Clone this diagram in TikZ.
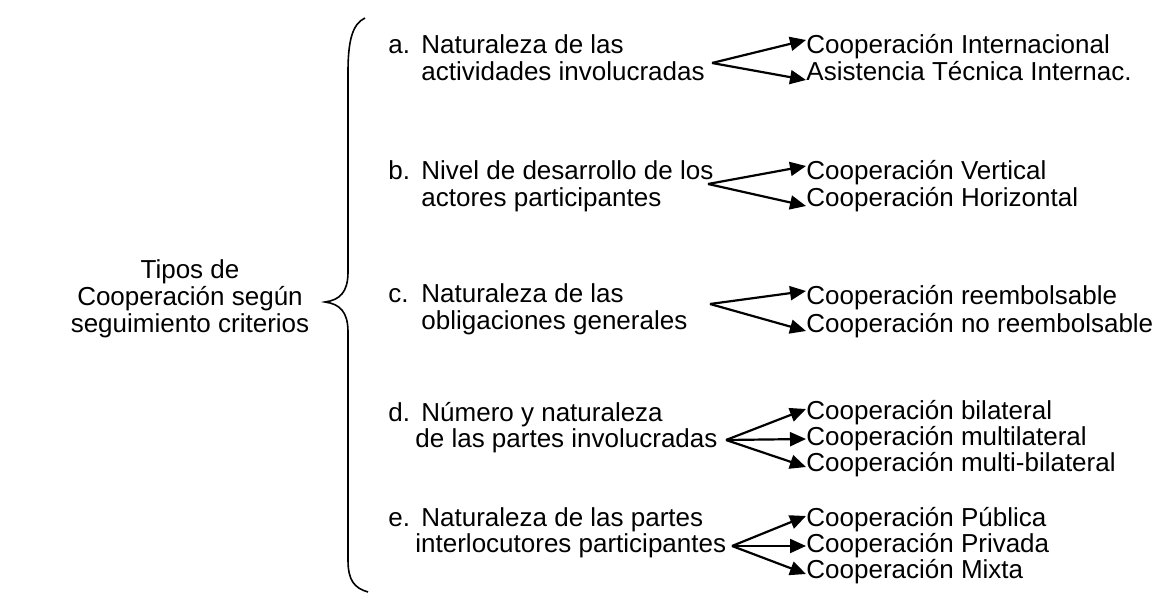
\documentclass[tikz,border=0pt]{standalone}
\usepackage{fontspec}
\setmainfont{Liberation Sans}
\usetikzlibrary{arrows.meta}

\tikzset{
	txt/.style={anchor=base west,inner sep=0pt,text height=9pt,text depth=3pt,
		font=\fontsize{13}{13.5}\selectfont},
	arr/.style={-{Triangle[length=8pt,width=7pt]},line width=1.1pt},
	brace/.style={line width=0.8pt}
}

\begin{document}
\begin{tikzpicture}[x=0.5pt,y=-0.5pt]
	\useasboundingbox (0,0) rectangle (1165,614);

	% la llave
	\draw[brace] (365,18) .. controls (352,24) and (348,42) .. (348,72) -- (348,272)
		.. controls (348,292) and (340,300) .. (325,302)
		.. controls (340,304) and (348,312) .. (348,332) -- (348,560)
		.. controls (348,580) and (354,588) .. (368,592);

	\node[align=center,inner sep=0pt,font=\fontsize{13}{13.5}\selectfont] (tipos) at (190,299)
		{Tipos de\\Cooperación según\\seguimiento criterios};

	% criterios
	\node[txt] (ta) at (388,54) {a.};
	\node[txt] (la1) at (421,54) {Naturaleza de las};
	\node[txt] (la2) at (421,81) {actividades involucradas};
	\node[txt] (tb) at (388,180) {b.};
	\node[txt] (lb1) at (421,180) {Nivel de desarrollo de los};
	\node[txt] (lb2) at (421,207) {actores participantes};
	\node[txt] (tc) at (388,302) {c.};
	\node[txt] (lc1) at (421,302) {Naturaleza de las};
	\node[txt] (lc2) at (421,329) {obligaciones generales};
	\node[txt] (td) at (388,421) {d.};
	\node[txt] (ld1) at (421,421) {Número y naturaleza};
	\node[txt] (ld2) at (415,447) {de las partes involucradas};
	\node[txt] (te) at (388,526) {e.};
	\node[txt] (le1) at (421,526) {Naturaleza de las partes};
	\node[txt] (le2) at (415,552) {interlocutores participantes};

	% tipos
	\node[txt] (ra1) at (806,54) {Cooperación Internacional};
	\node[txt] (ra2) at (806,81) {Asistencia Técnica Internac.};
	\node[txt] (rb1) at (806,180) {Cooperación Vertical};
	\node[txt] (rb2) at (806,207) {Cooperación Horizontal};
	\node[txt] (rc1) at (806,305) {Cooperación reembolsable};
	\node[txt] (rc2) at (806,332) {Cooperación no reembolsable};
	\node[txt] (rd1) at (806,419) {Cooperación bilateral};
	\node[txt] (rd2) at (806,445) {Cooperación multilateral};
	\node[txt] (rd3) at (806,471) {Cooperación multi-bilateral};
	\node[txt] (re1) at (806,526) {Cooperación Pública};
	\node[txt] (re2) at (806,552) {Cooperación Privada};
	\node[txt] (re3) at (806,578) {Cooperación Mixta};

	\coordinate (va) at (712,63);
	\coordinate (vb) at (708,184);
	\coordinate (vc) at (710,304);
	\coordinate (vd) at (726,440);
	\coordinate (ve) at (732,546);

	\draw[arr] (va) -- ([yshift=4pt]ra1.west);
	\draw[arr] (va) -- ([yshift=-2.5pt]ra2.west);
	\draw[arr] (vb) -- ([yshift=4pt]rb1.west);
	\draw[arr] (vb) -- ([yshift=-2.5pt]rb2.west);
	\draw[arr] (vc) -- ([yshift=4pt]rc1.west);
	\draw[arr] (vc) -- ([yshift=-2.5pt]rc2.west);
	\draw[arr] (vd) -- ([yshift=2pt]rd1.west);
	\draw[arr] (vd) -- (rd2.west);
	\draw[arr] (vd) -- ([yshift=-1pt]rd3.west);
	\draw[arr] (ve) -- ([yshift=2pt]re1.west);
	\draw[arr] (ve) -- (re2.west);
	\draw[arr] (ve) -- ([yshift=-1pt]re3.west);
\end{tikzpicture}
\end{document}
